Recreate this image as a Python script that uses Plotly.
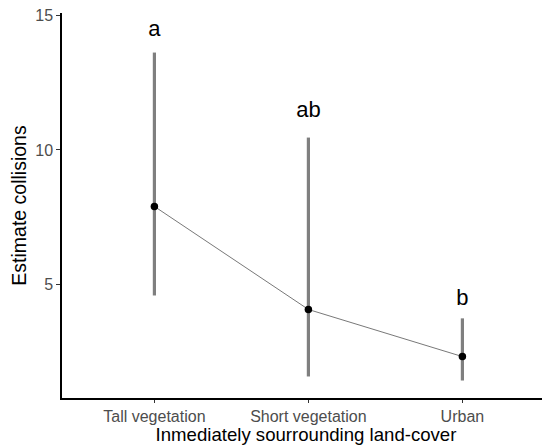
import plotly.graph_objects as go

categories = ["Tall vegetation", "Short vegetation", "Urban"]
estimate = [7.9, 4.07, 2.32]
upper = [13.62, 10.46, 3.74]
lower = [4.59, 1.58, 1.43]
letters = ["a", "ab", "b"]
letter_y = [14.44, 11.43, 4.44]
y_ticks = [5, 10, 15]

xpos = list(range(1, len(categories) + 1))

fig = go.Figure()
fig.add_trace(go.Scatter(
    x=xpos, y=estimate, mode="markers",
    marker=dict(size=1, color="rgba(0,0,0,0)"),
    error_y=dict(type="data", symmetric=False,
                 array=[u - e for u, e in zip(upper, estimate)],
                 arrayminus=[e - l for e, l in zip(estimate, lower)],
                 color="#7f7f7f", thickness=3.2, width=0),
    showlegend=False, hoverinfo="skip"))
fig.add_trace(go.Scatter(
    x=xpos, y=estimate, mode="lines+markers",
    line=dict(color="#555555", width=0.8),
    marker=dict(size=7.5, color="black"),
    showlegend=False))
fig.add_trace(go.Scatter(
    x=xpos, y=letter_y, mode="text", text=letters,
    textfont=dict(family="Liberation Sans, Arial", size=22, color="black"),
    showlegend=False, hoverinfo="skip"))

fig.update_layout(
    width=542, height=437,
    margin=dict(l=54, r=0, t=5, b=47, autoexpand=False),
    plot_bgcolor="white", paper_bgcolor="white",
    font=dict(family="Liberation Sans, Arial"),
    xaxis=dict(
        range=[0.4, 0.4 + 488 / 154],
        tickvals=xpos, ticktext=categories,
        showgrid=False, zeroline=False, automargin=False,
        showline=True, linecolor="black", linewidth=1.5,
        ticks="outside", ticklen=3, tickcolor="#333333", tickwidth=1,
        tickfont=dict(size=16, color="#4d4d4d"),
        title=dict(text="Inmediately sourrounding land-cover",
                   font=dict(size=18.6, color="black"), standoff=6),
    ),
    yaxis=dict(
        range=[0.78, 15.09],
        tickvals=y_ticks, ticklabeloverflow="allow",
        showgrid=False, zeroline=False, automargin=False,
        showline=True, linecolor="black", linewidth=1.5,
        ticks="outside", ticklen=4, tickcolor="#333333", tickwidth=1,
        tickfont=dict(size=16, color="#4d4d4d"),
        title=dict(text="Estimate collisions",
                   font=dict(size=19.5, color="black"), standoff=5),
    ),
)

fig.write_html("out.html")
